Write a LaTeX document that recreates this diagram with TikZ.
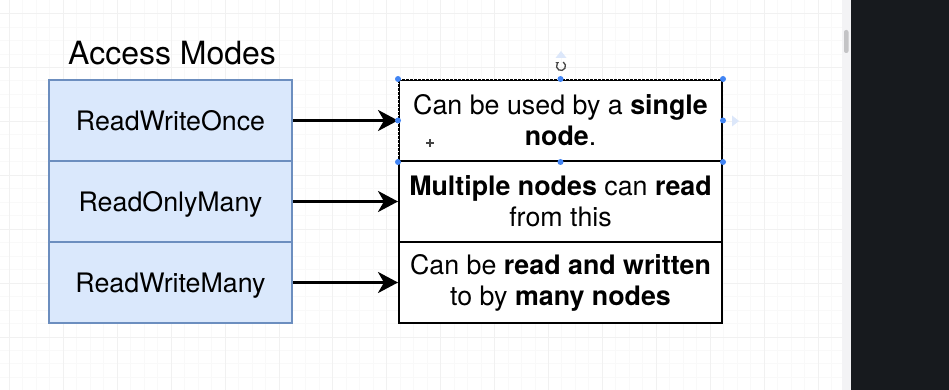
\documentclass[tikz,border=0pt]{standalone}
\usepackage{fontspec}
\setmainfont{TeX Gyre Heros}
\usetikzlibrary{arrows.meta}

\definecolor{modefill}{HTML}{DAE8FC}
\definecolor{modeline}{HTML}{6C8EBF}
\definecolor{gridminor}{HTML}{F9F9F9}
\definecolor{gridmajor}{HTML}{F1F1F1}
\definecolor{panel}{HTML}{171A1E}
\definecolor{strip}{HTML}{F3F3F5}
\definecolor{thumb}{HTML}{C4C4C6}
\definecolor{handle}{HTML}{4285F4}
\definecolor{hint}{HTML}{DCE7FA}
\definecolor{cursorgray}{HTML}{444444}

\tikzset{
  modebox/.style={draw=modeline, fill=modefill, line width=2pt,
    minimum width=243pt, minimum height=81pt, inner sep=0pt,
    font=\fontsize{26.8}{31}\selectfont, text height=20pt, text depth=0pt},
  descbox/.style={draw=black, fill=white, line width=2pt,
    minimum width=323pt, minimum height=81pt, inner sep=0pt, align=center,
    font=\fontsize{26.8}{31}\selectfont},
  link/.style={line width=3pt, -{Stealth[length=20pt,width=21pt,inset=6pt]}},
  grip/.style={circle, fill=handle, inner sep=0pt, minimum size=6pt},
  heading/.style={font=\fontsize{32}{38}\selectfont, inner sep=0pt, anchor=base west},
}

\begin{document}
\begin{tikzpicture}[x=1pt, y=-1pt]
  % canvas
  \useasboundingbox (0,0) rectangle (949,390);
  \fill[white] (0,0) rectangle (949,390);

  % background grid
  \foreach \k in {0,...,61}
    \draw[gridminor, line width=1pt] ({9.5+13.475*\k},0) -- ({9.5+13.475*\k},390);
  \foreach \k in {0,...,27}
    \draw[gridminor, line width=1pt] (0,{13.6+13.475*\k}) -- (842,{13.6+13.475*\k});
  \foreach \k in {0,...,15}
    \draw[gridmajor, line width=1pt] ({9.5+53.9*\k},0) -- ({9.5+53.9*\k},390);
  \foreach \k in {0,...,6}
    \draw[gridmajor, line width=1pt] (0,{13.6+53.9*\k}) -- (842,{13.6+53.9*\k});

  % side panel and scrollbar
  \fill[strip] (842,0) rectangle (851,390);
  \fill[thumb, rounded corners=2pt] (844,30) rectangle (848.5,53);
  \fill[panel] (851,0) rectangle (949,390);

  % heading
  \node[heading] (title) at (68,65) {Access Modes};

  % access modes
  \node[modebox] (m1) at (170.5,120.5) {ReadWriteOnce};
  \node[modebox] (m2) at (170.5,201.5) {ReadOnlyMany};
  \node[modebox] (m3) at (170.5,282.5) {ReadWriteMany};

  % descriptions
  \node[descbox] (d1) at (560.5,120.5) {Can be used by a \textbf{single}\\\textbf{node}.};
  \node[descbox] (d2) at (560.5,201.5) {\textbf{Multiple nodes} can \textbf{read}\\from this};
  \node[descbox] (d3) at (560.5,282.5) {Can be \textbf{read and written}\\to by \textbf{many nodes}};

  % connectors
  \draw[link] (m1.east) -- (d1.west);
  \draw[link] (m2.east) -- (d2.west);
  \draw[link] (m3.east) -- (d3.west);

  % selection outline on the first description
  \draw[white, line width=0.7pt, dash pattern=on 1.5pt off 2.5pt]
    (d1.north west) rectangle (d1.south east);
  \foreach \a/\n in {north west/h1, north/h2, north east/h3, west/h4,
                     east/h5, south west/h6, south/h7, south east/h8}
    \node[grip] (\n) at (d1.\a) {};

  % rotate handle
  \coordinate (rot) at (561,66);
  \draw[cursorgray, line width=1.3pt, -{Stealth[length=3pt,width=3.5pt]}]
    ([shift={(60:4.5pt)}]rot) arc[start angle=60, end angle=-240, radius=4.5pt];

  % hover hints
  \fill[hint] (555.5,58) -- (566.5,58) -- (561,51) -- cycle;
  \fill[hint] (732,115.5) -- (732,126.5) -- (739,121) -- cycle;

  % move cursor
  \coordinate (mv) at (430,143);
  \draw[cursorgray, line width=1.6pt] ([xshift=-4pt]mv) -- ([xshift=4pt]mv);
  \draw[cursorgray, line width=1.6pt] ([yshift=-4pt]mv) -- ([yshift=4pt]mv);
\end{tikzpicture}
\end{document}
